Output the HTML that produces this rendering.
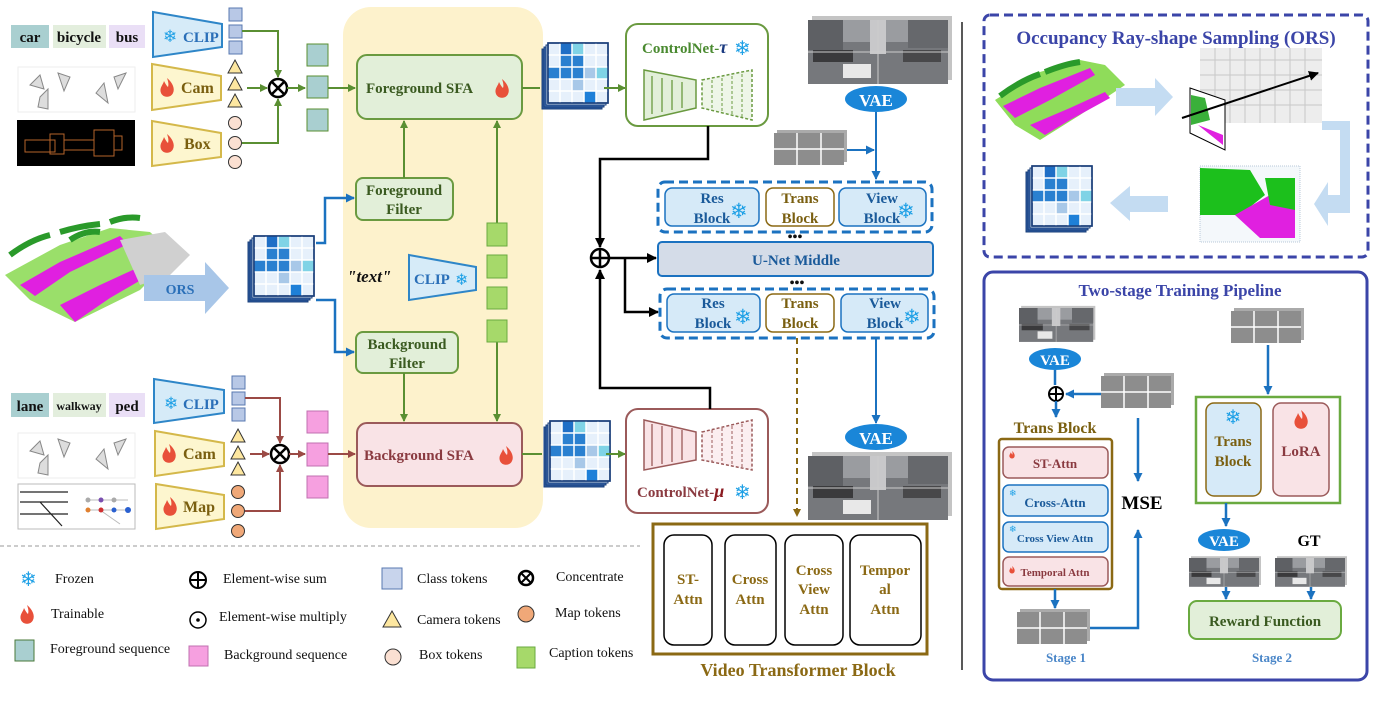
<!DOCTYPE html>
<html><head><meta charset="utf-8"><style>
html,body{margin:0;padding:0;background:#fff;}
svg{display:block;}
text{font-family:"Liberation Serif",serif;font-weight:bold;}
.sn{font-family:"DejaVu Sans",sans-serif;font-weight:normal;fill:#1ea0e6;}
</style></head><body>
<svg width="1384" height="702" viewBox="0 0 1384 702" xmlns="http://www.w3.org/2000/svg">
<defs>
<marker id="ag" markerWidth="8" markerHeight="8" refX="7" refY="4" orient="auto" markerUnits="userSpaceOnUse"><path d="M0,0L8,4L0,8Z" fill="#5a8f32"/></marker>
<marker id="ab" markerWidth="9" markerHeight="9" refX="8" refY="4.5" orient="auto" markerUnits="userSpaceOnUse"><path d="M0,0L9,4.5L0,9Z" fill="#1b72c0"/></marker>
<marker id="ak" markerWidth="10" markerHeight="10" refX="9" refY="5" orient="auto" markerUnits="userSpaceOnUse"><path d="M0,0L10,5L0,10Z" fill="#000"/></marker>
<marker id="ar" markerWidth="8" markerHeight="8" refX="7" refY="4" orient="auto" markerUnits="userSpaceOnUse"><path d="M0,0L8,4L0,8Z" fill="#9b4a45"/></marker>
<marker id="ao" markerWidth="8" markerHeight="8" refX="7" refY="4" orient="auto" markerUnits="userSpaceOnUse"><path d="M0,0L8,4L0,8Z" fill="#8b6914"/></marker>
<g id="fl"><path d="M0,-10 C6,-5 8,1 6,5 C4,10 -4,10 -6,5 C-8,0 -4,-3 -3,-7 C-1,-3 0,-2 1,-1 C2,-4 1,-7 0,-10Z" fill="#e8503a"/></g>
<g id="grid">
<rect x="-6" y="6" width="60" height="60" fill="#2a5aa0" stroke="#1a3f7a"/>
<rect x="-4" y="4" width="60" height="60" fill="#3a6ab0" stroke="#1a3f7a"/>
<rect x="-2" y="2" width="60" height="60" fill="#cfe0f4" stroke="#1a3f7a"/>
<rect x="0" y="0" width="60" height="60" fill="#e6f0fb" stroke="#1a3f7a" stroke-width="1.5"/>
<rect x="12" y="0" width="12" height="12" fill="#1f6fc6"/><rect x="24" y="0" width="12" height="12" fill="#7fd3e6"/>
<rect x="12" y="12" width="12" height="12" fill="#2a80d0"/><rect x="24" y="12" width="12" height="12" fill="#2a80d0"/>
<rect x="0" y="24" width="12" height="12" fill="#2a80d0"/><rect x="12" y="24" width="12" height="12" fill="#2a80d0"/><rect x="24" y="24" width="12" height="12" fill="#2a80d0"/><rect x="36" y="24" width="12" height="12" fill="#a8c8e8"/><rect x="48" y="24" width="12" height="12" fill="#7fd3e6"/>
<rect x="24" y="36" width="12" height="12" fill="#a8c8e8"/><rect x="36" y="48" width="12" height="12" fill="#1f80d8"/>
<path d="M12,0V60M24,0V60M36,0V60M48,0V60M0,12H60M0,24H60M0,36H60M0,48H60" stroke="#fff" stroke-width="1.5"/>
<rect x="0" y="0" width="60" height="60" fill="none" stroke="#1a3f7a" stroke-width="1.5"/>
</g>
<g id="img">
<rect x="4" y="-4" width="140" height="64" fill="#c4c4c4"/>
<rect x="0" y="0" width="140" height="64" fill="#76787c"/>
<rect x="0" y="0" width="140" height="22" fill="#9a9ca0"/>
<rect x="0" y="0" width="35" height="30" fill="#5e6064"/><rect x="100" y="0" width="40" height="28" fill="#66686c"/>
<rect x="5" y="30" width="40" height="12" fill="#3a3a3c"/><rect x="95" y="30" width="38" height="12" fill="#48484a"/>
<rect x="35" y="44" width="28" height="14" fill="#e8e8e8"/><rect x="62" y="0" width="16" height="34" fill="#c8c8ca"/>
<path d="M0,32H140M70,0V64" stroke="#ccc" stroke-width="1"/>
</g>
<g id="noise">
<rect x="3" y="-3" width="70" height="32" fill="#aaa"/>
<rect x="0" y="0" width="70" height="32" fill="#8d8d8d"/>
<path d="M0,16H70M23,0V32M47,0V32" stroke="#fff" stroke-width="1.5"/>
</g>
<g id="cams">
<rect x="0" y="0" width="117" height="45" fill="#fff" stroke="#eee"/>
<path d="M12,18L22,8L26,22ZM22,30L30,22L30,42L20,40ZM40,6L52,10L46,24Z M78,26L86,16L90,36ZM96,10L108,6L100,22Z" fill="#ddd" stroke="#888"/>
</g>
</defs>

<rect x="343" y="7" width="200" height="521" rx="28" fill="#fdf2cc"/>

<rect x="11" y="25" width="38" height="23" fill="#a9cfd0"/><text x="30" y="42" font-size="15" text-anchor="middle" fill="#111">car</text>
<rect x="53" y="25" width="53" height="23" fill="#e3eedd"/><text x="79" y="42" font-size="15" text-anchor="middle" fill="#111">bicycle</text>
<rect x="109" y="25" width="36" height="23" fill="#eadff6"/><text x="127" y="42" font-size="15" text-anchor="middle" fill="#111">bus</text>
<use href="#cams" x="18" y="67"/>
<rect x="17" y="120" width="118" height="46" fill="#000"/>
<path d="M25,140h30v12h-30zM50,134h14v20h-14zM64,140h30v10h-30zM94,130h20v26h-20zM114,136h8v14h-8z" fill="none" stroke="#b5632a" stroke-width="1"/>

<polygon points="153,12 222,24 222,47 153,57" fill="#d6ebf8" stroke="#2e86c8" stroke-width="2"/>
<text x="163" y="42" class="sn" font-size="17">❄</text><text x="183" y="42" font-size="15" fill="#2a6fb8">CLIP</text>
<polygon points="152,64 221,76 221,100 152,110" fill="#fdf6cf" stroke="#d4b84a" stroke-width="2"/>
<use href="#fl" x="167" y="88"/><text x="181" y="93" font-size="16" fill="#7a5f10">Cam</text>
<polygon points="152,121 221,133 221,157 152,166" fill="#fdf6cf" stroke="#d4b84a" stroke-width="2"/>
<use href="#fl" x="167" y="144"/><text x="184" y="149" font-size="16" fill="#7a5f10">Box</text>

<rect x="229" y="8" width="13" height="13" fill="#b8c8e6" stroke="#5878b0"/><rect x="229" y="25" width="13" height="13" fill="#b8c8e6" stroke="#5878b0"/><rect x="229" y="41" width="13" height="13" fill="#b8c8e6" stroke="#5878b0"/>
<polygon points="235,60 242,73 228,73" fill="#fde7a0" stroke="#333"/><polygon points="235,77 242,90 228,90" fill="#fde7a0" stroke="#333"/><polygon points="235,94 242,107 228,107" fill="#fde7a0" stroke="#333"/>
<circle cx="235" cy="123" r="6.5" fill="#fbe0d2" stroke="#333"/><circle cx="235" cy="143" r="6.5" fill="#fbe0d2" stroke="#333"/><circle cx="235" cy="162" r="6.5" fill="#fbe0d2" stroke="#333"/>
<path d="M242,31H278V77" stroke="#5a8f32" stroke-width="2" fill="none" marker-end="url(#ag)"/>
<path d="M242,143H278V99" stroke="#5a8f32" stroke-width="2" fill="none" marker-end="url(#ag)"/>
<path d="M247,88H267" stroke="#5a8f32" stroke-width="2" marker-end="url(#ag)"/>
<circle cx="278" cy="88" r="9" fill="#fff" stroke="#000" stroke-width="2.5"/><path d="M272,82L284,94M284,82L272,94" stroke="#000" stroke-width="2.5"/>
<path d="M287,88H305" stroke="#5a8f32" stroke-width="2" marker-end="url(#ag)"/>
<rect x="307" y="44" width="21" height="22" fill="#a9cfd0" stroke="#5a8f32"/><rect x="307" y="76" width="21" height="22" fill="#a9cfd0" stroke="#5a8f32"/><rect x="307" y="109" width="21" height="22" fill="#a9cfd0" stroke="#5a8f32"/>
<path d="M328,88H355" stroke="#5a8f32" stroke-width="2" marker-end="url(#ag)"/>

<rect x="357" y="55" width="165" height="64" rx="10" fill="#e2efd9" stroke="#6a9a40" stroke-width="2"/>
<text x="366" y="93" font-size="15" fill="#3a5a20">Foreground SFA</text><use href="#fl" x="502" y="89"/>
<rect x="356" y="178" width="97" height="42" rx="7" fill="#e2efd9" stroke="#6a9a40" stroke-width="2"/>
<text x="404" y="195" font-size="15" text-anchor="middle" fill="#3a5a20">Foreground</text><text x="404" y="214" font-size="15" text-anchor="middle" fill="#3a5a20">Filter</text>
<rect x="356" y="332" width="102" height="41" rx="7" fill="#e2efd9" stroke="#6a9a40" stroke-width="2"/>
<text x="407" y="349" font-size="15" text-anchor="middle" fill="#3a5a20">Background</text><text x="407" y="368" font-size="15" text-anchor="middle" fill="#3a5a20">Filter</text>
<path d="M404,178V121" stroke="#5a8f32" stroke-width="2" marker-end="url(#ag)"/>
<path d="M497,223V121" stroke="#5a8f32" stroke-width="2" marker-end="url(#ag)"/>
<path d="M404,373V421" stroke="#5a8f32" stroke-width="2" marker-end="url(#ag)"/>
<path d="M497,342V421" stroke="#5a8f32" stroke-width="2" marker-end="url(#ag)"/>
<rect x="487" y="223" width="20" height="23" fill="#a6d96a" stroke="#6aaa40"/><rect x="487" y="255" width="20" height="23" fill="#a6d96a" stroke="#6aaa40"/><rect x="487" y="287" width="20" height="22" fill="#a6d96a" stroke="#6aaa40"/><rect x="487" y="320" width="20" height="22" fill="#a6d96a" stroke="#6aaa40"/>
<text x="347" y="282" font-size="17" font-style="italic" font-family="Liberation Mono" fill="#111">"text"</text>
<polygon points="409,255 476,267 476,290 409,300" fill="#d6ebf8" stroke="#2e86c8" stroke-width="2"/>
<text x="414" y="284" font-size="15" fill="#2a6fb8">CLIP</text><text x="455" y="285" class="sn" font-size="16">❄</text>

<!-- point cloud -->
<polygon points="5,275 60,245 110,228 150,232 175,255 140,290 75,322 30,300" fill="#8fdc5a" opacity="0.9"/>
<polygon points="20,285 60,262 120,236 128,244 70,272 35,296" fill="#e020e0"/>
<polygon points="60,305 100,285 150,262 158,270 110,298 75,322" fill="#e020e0"/>
<polygon points="120,240 165,232 190,255 170,275 140,285" fill="#d0d0d0"/>
<path d="M10,255q20,-15 40,-20 M60,232q20,-6 40,-8 M70,240q15,-10 30,-8 M110,222q15,-6 30,-4" stroke="#2a9a2a" stroke-width="6" fill="none"/>
<polygon points="144,275 205,275 205,262 229,288 205,314 205,301 144,301" fill="#a8c6e8"/>
<text x="180" y="294" font-size="14" text-anchor="middle" fill="#2a6fb8">ORS</text>
<use href="#grid" x="254" y="236"/>
<path d="M316,243H325V198H354" stroke="#1b72c0" stroke-width="2.5" fill="none" marker-end="url(#ab)"/>
<path d="M316,300H335V352H354" stroke="#1b72c0" stroke-width="2.5" fill="none" marker-end="url(#ab)"/>

<rect x="11" y="393" width="38" height="24" fill="#a9cfd0"/><text x="30" y="411" font-size="15" text-anchor="middle" fill="#111">lane</text>
<rect x="53" y="393" width="53" height="24" fill="#e3eedd"/><text x="79" y="410" font-size="12" text-anchor="middle" fill="#111">walkway</text>
<rect x="109" y="393" width="36" height="24" fill="#eadff6"/><text x="127" y="411" font-size="15" text-anchor="middle" fill="#111">ped</text>
<use href="#cams" x="18" y="433"/>
<rect x="18" y="484" width="117" height="45" fill="#fff" stroke="#bbb"/>
<path d="M20,492H68M20,502H68M20,514H68M40,502L62,526" stroke="#222" stroke-width="1.2"/>
<path d="M86,500H128M86,510H128M100,510L120,524" stroke="#bbb"/>
<circle cx="88" cy="500" r="2.5" fill="#aaa"/><circle cx="101" cy="500" r="2.5" fill="#7a4fb0"/><circle cx="114" cy="500" r="2.5" fill="#aaa"/><circle cx="88" cy="510" r="2.5" fill="#e08030"/><circle cx="101" cy="510" r="2.5" fill="#d03030"/><circle cx="114" cy="510" r="2.5" fill="#2a60d0"/><circle cx="128" cy="510" r="3" fill="#2a60d0"/>
<polygon points="154,379 224,390 224,413 154,423" fill="#d6ebf8" stroke="#2e86c8" stroke-width="2"/>
<text x="164" y="409" class="sn" font-size="17">❄</text><text x="183" y="409" font-size="15" fill="#2a6fb8">CLIP</text>
<polygon points="155,431 224,443 224,466 155,476" fill="#fdf6cf" stroke="#d4b84a" stroke-width="2"/>
<use href="#fl" x="169" y="454"/><text x="183" y="459" font-size="16" fill="#7a5f10">Cam</text>
<polygon points="156,484 224,495 224,519 156,529" fill="#fdf6cf" stroke="#d4b84a" stroke-width="2"/>
<use href="#fl" x="170" y="507"/><text x="183" y="512" font-size="16" fill="#7a5f10">Map</text>
<rect x="232" y="376" width="13" height="13" fill="#b8c8e6" stroke="#5878b0"/><rect x="232" y="392" width="13" height="13" fill="#b8c8e6" stroke="#5878b0"/><rect x="232" y="408" width="13" height="13" fill="#b8c8e6" stroke="#5878b0"/>
<polygon points="238,429 245,442 231,442" fill="#fde7a0" stroke="#333"/><polygon points="238,446 245,459 231,459" fill="#fde7a0" stroke="#333"/><polygon points="238,462 245,475 231,475" fill="#fde7a0" stroke="#333"/>
<circle cx="238" cy="492" r="6.5" fill="#f0a878" stroke="#333"/><circle cx="238" cy="511" r="6.5" fill="#f0a878" stroke="#333"/><circle cx="238" cy="531" r="6.5" fill="#f0a878" stroke="#333"/>
<path d="M245,398H280V443" stroke="#9b4a45" stroke-width="2" fill="none" marker-end="url(#ar)"/>
<path d="M245,511H280V465" stroke="#9b4a45" stroke-width="2" fill="none" marker-end="url(#ar)"/>
<path d="M250,454H269" stroke="#9b4a45" stroke-width="2" marker-end="url(#ar)"/>
<circle cx="280" cy="454" r="9" fill="#fff" stroke="#000" stroke-width="2.5"/><path d="M274,448L286,460M286,448L274,460" stroke="#000" stroke-width="2.5"/>
<path d="M289,454H305" stroke="#9b4a45" stroke-width="2" marker-end="url(#ar)"/>
<rect x="307" y="411" width="21" height="22" fill="#f6a0e0" stroke="#c070b0"/><rect x="307" y="443" width="21" height="23" fill="#f6a0e0" stroke="#c070b0"/><rect x="307" y="476" width="21" height="22" fill="#f6a0e0" stroke="#c070b0"/>
<path d="M328,454H355" stroke="#9b4a45" stroke-width="2" marker-end="url(#ar)"/>
<rect x="357" y="423" width="165" height="63" rx="10" fill="#f9e3e6" stroke="#9b5a5a" stroke-width="2"/>
<text x="364" y="460" font-size="15" fill="#8a3a40">Background SFA</text><use href="#fl" x="506" y="456"/>

<use href="#grid" x="548" y="43"/>
<path d="M522,88H540" stroke="#5a8f32" stroke-width="2"/>
<path d="M604,88H625" stroke="#5a8f32" stroke-width="2" marker-end="url(#ag)"/>
<use href="#grid" x="550" y="421"/>
<path d="M522,454H542" stroke="#5a8f32" stroke-width="2"/>
<path d="M606,454H625" stroke="#5a8f32" stroke-width="2" marker-end="url(#ag)"/>

<rect x="626" y="24" width="142" height="102" rx="12" fill="#fff" stroke="#6a9a40" stroke-width="2"/>
<text x="642" y="53" font-size="15" fill="#4a8a30">ControlNet-<tspan font-style="italic" fill="#1a3a80" font-size="18">τ</tspan></text><text x="734" y="55" class="sn" font-size="20">❄</text>
<polygon points="644,70 696,80 696,108 644,120" fill="#e2efd9" stroke="#6a9a40" stroke-width="1.5"/>
<path d="M652,76V114M662,78V112M672,80V110M682,82V108" stroke="#6a9a40" stroke-width="1.3"/>
<polygon points="702,80 752,70 752,120 702,108" fill="#eef6e8" stroke="#6a9a40" stroke-width="1.5" stroke-dasharray="3,2"/>
<path d="M712,80V108M722,78V111M732,76V114M742,74V117" stroke="#6a9a40" stroke-width="1" stroke-dasharray="3,2"/>
<rect x="626" y="409" width="142" height="104" rx="12" fill="#fff" stroke="#9b5a5a" stroke-width="2"/>
<polygon points="644,420 696,432 696,460 644,470" fill="#f9e3e6" stroke="#9b5a5a" stroke-width="1.5"/>
<path d="M652,424V466M662,426V464M672,428V462M682,430V460" stroke="#9b5a5a" stroke-width="1.3"/>
<polygon points="702,432 752,420 752,470 702,460" fill="#fbeef0" stroke="#9b5a5a" stroke-width="1.5" stroke-dasharray="3,2"/>
<path d="M712,430V462M722,428V464M732,426V466M742,424V468" stroke="#9b5a5a" stroke-width="1" stroke-dasharray="3,2"/>
<text x="637" y="497" font-size="15" fill="#8a3a40">ControlNet-<tspan font-style="italic" fill="#8a1a20" font-size="18">μ</tspan></text><text x="734" y="499" class="sn" font-size="20">❄</text>

<path d="M708,126V159H600V247" stroke="#000" stroke-width="2.5" fill="none" marker-end="url(#ak)"/>
<path d="M710,409V388H600V270" stroke="#000" stroke-width="2.5" fill="none" marker-end="url(#ak)"/>
<circle cx="600" cy="258" r="9" fill="#fff" stroke="#000" stroke-width="2.5"/><path d="M591,258H609M600,249V267" stroke="#000" stroke-width="2.5"/>
<path d="M609,258H656" stroke="#000" stroke-width="2.5" marker-end="url(#ak)"/>
<path d="M625,258V312H658" stroke="#000" stroke-width="2.5" fill="none" marker-end="url(#ak)"/>

<use href="#img" x="808" y="20"/>
<ellipse cx="876" cy="99" rx="31" ry="13" fill="#1a86d8"/><text x="876" y="106" font-size="17" text-anchor="middle" fill="#fff">VAE</text>
<use href="#noise" x="774" y="133"/>
<path d="M876,112V179" stroke="#1b72c0" stroke-width="2" marker-end="url(#ab)"/>
<path d="M847,150H874" stroke="#1b72c0" stroke-width="2" marker-end="url(#ab)"/>
<rect x="658" y="182" width="274" height="50" rx="7" fill="none" stroke="#1b72c0" stroke-width="3" stroke-dasharray="9,5"/>
<rect x="665" y="188" width="94" height="38" rx="7" fill="#d6eaf8" stroke="#1b72c0" stroke-width="1.5"/>
<text x="712" y="203" font-size="15" text-anchor="middle" fill="#1a5a9a">Res</text><text x="712" y="223" font-size="15" text-anchor="middle" fill="#1a5a9a">Block</text><text x="730" y="218" class="sn" font-size="21">❄</text>
<rect x="766" y="188" width="68" height="38" rx="7" fill="#fff" stroke="#8b6914" stroke-width="1.5"/>
<text x="800" y="203" font-size="15" text-anchor="middle" fill="#7a5f10">Trans</text><text x="800" y="223" font-size="15" text-anchor="middle" fill="#7a5f10">Block</text>
<rect x="839" y="188" width="87" height="38" rx="7" fill="#d6eaf8" stroke="#1b72c0" stroke-width="1.5"/>
<text x="882" y="203" font-size="15" text-anchor="middle" fill="#1a5a9a">View</text><text x="882" y="223" font-size="15" text-anchor="middle" fill="#1a5a9a">Block</text><text x="897" y="218" class="sn" font-size="21">❄</text>
<text x="795" y="241" font-size="14" text-anchor="middle" fill="#111">•••</text>
<rect x="658" y="242" width="275" height="34" rx="4" fill="#d4dce8" stroke="#1b72c0" stroke-width="2"/>
<text x="796" y="265" font-size="15" text-anchor="middle" fill="#1a5a9a">U-Net Middle</text>
<text x="797" y="287" font-size="14" text-anchor="middle" fill="#111">•••</text>
<rect x="660" y="289" width="274" height="49" rx="7" fill="none" stroke="#1b72c0" stroke-width="3" stroke-dasharray="9,5"/>
<rect x="667" y="294" width="93" height="38" rx="7" fill="#d6eaf8" stroke="#1b72c0" stroke-width="1.5"/>
<text x="713" y="308" font-size="15" text-anchor="middle" fill="#1a5a9a">Res</text><text x="713" y="328" font-size="15" text-anchor="middle" fill="#1a5a9a">Block</text><text x="734" y="324" class="sn" font-size="21">❄</text>
<rect x="766" y="294" width="68" height="38" rx="7" fill="#fff" stroke="#8b6914" stroke-width="1.5"/>
<text x="800" y="308" font-size="15" text-anchor="middle" fill="#7a5f10">Trans</text><text x="800" y="328" font-size="15" text-anchor="middle" fill="#7a5f10">Block</text>
<rect x="841" y="294" width="87" height="38" rx="7" fill="#d6eaf8" stroke="#1b72c0" stroke-width="1.5"/>
<text x="885" y="308" font-size="15" text-anchor="middle" fill="#1a5a9a">View</text><text x="885" y="328" font-size="15" text-anchor="middle" fill="#1a5a9a">Block</text><text x="903" y="324" class="sn" font-size="21">❄</text>
<path d="M876,338V423" stroke="#1b72c0" stroke-width="2" marker-end="url(#ab)"/>
<ellipse cx="876" cy="437" rx="31" ry="13" fill="#1a86d8"/><text x="876" y="444" font-size="17" text-anchor="middle" fill="#fff">VAE</text>
<use href="#img" x="808" y="456"/>
<path d="M797,338V516" stroke="#8b6914" stroke-width="2" stroke-dasharray="6,4" marker-end="url(#ao)"/>

<rect x="653" y="524" width="274" height="130" fill="#fff" stroke="#8b6914" stroke-width="3"/>
<rect x="664" y="535" width="48" height="110" rx="10" fill="#fff" stroke="#000" stroke-width="1.5"/>
<rect x="725" y="535" width="51" height="110" rx="10" fill="#fff" stroke="#000" stroke-width="1.5"/>
<rect x="785" y="535" width="58" height="110" rx="10" fill="#fff" stroke="#000" stroke-width="1.5"/>
<rect x="850" y="535" width="71" height="110" rx="10" fill="#fff" stroke="#000" stroke-width="1.5"/>
<g font-size="15" fill="#8b6914" text-anchor="middle">
<text x="688" y="584">ST-</text><text x="688" y="604">Attn</text>
<text x="750" y="584">Cross</text><text x="750" y="604">Attn</text>
<text x="814" y="575">Cross</text><text x="814" y="594">View</text><text x="814" y="614">Attn</text>
<text x="885" y="575">Tempor</text><text x="885" y="594">al</text><text x="885" y="614">Attn</text>
</g>
<text x="798" y="676" font-size="18" text-anchor="middle" fill="#8b6914">Video Transformer Block</text>

<path d="M0,546H640" stroke="#bbb" stroke-width="1.5" stroke-dasharray="4,3"/>
<g>
<text x="20" y="586" class="sn" font-size="20">❄</text>
<text x="55" y="583" font-size="14" fill="#111" style="font-weight:normal">Frozen</text>
<use href="#fl" x="27" y="615"/>
<text x="51" y="618" font-size="14" fill="#111" style="font-weight:normal">Trainable</text>
<rect x="15" y="640" width="19" height="21" fill="#a9cfd0" stroke="#4a7a3a"/>
<text x="50" y="653" font-size="14" fill="#111" style="font-weight:normal">Foreground sequence</text>
<circle cx="198" cy="580" r="8" fill="none" stroke="#000" stroke-width="2"/><path d="M190,580H206M198,572V588" stroke="#000" stroke-width="2"/>
<text x="223" y="583" font-size="14" fill="#111" style="font-weight:normal">Element-wise sum</text>
<circle cx="198" cy="620" r="8" fill="none" stroke="#000" stroke-width="1.5"/><circle cx="198" cy="620" r="1.8" fill="#000"/>
<text x="219" y="621" font-size="14" fill="#111" style="font-weight:normal">Element-wise multiply</text>
<rect x="189" y="646" width="19" height="20" fill="#f6a0e0" stroke="#c070b0"/>
<text x="224" y="659" font-size="14" fill="#111" style="font-weight:normal">Background sequence</text>
<rect x="382" y="568" width="20" height="21" fill="#c8d4ec" stroke="#5878b0"/>
<text x="417" y="583" font-size="14" fill="#111" style="font-weight:normal">Class tokens</text>
<polygon points="392,611 401,627 383,627" fill="#fde7a0" stroke="#333"/>
<text x="417" y="624" font-size="14" fill="#111" style="font-weight:normal">Camera tokens</text>
<circle cx="393" cy="657" r="8" fill="#fbe0d2" stroke="#333"/>
<text x="419" y="659" font-size="14" fill="#111" style="font-weight:normal">Box tokens</text>
<circle cx="526" cy="578" r="7" fill="#fff" stroke="#000" stroke-width="2.5"/><path d="M521,573L531,583M531,573L521,583" stroke="#000" stroke-width="2"/>
<text x="556" y="581" font-size="14" fill="#111" style="font-weight:normal">Concentrate</text>
<circle cx="526" cy="614" r="8" fill="#f0a878" stroke="#333"/>
<text x="555" y="617" font-size="14" fill="#111" style="font-weight:normal">Map tokens</text>
<rect x="517" y="647" width="18" height="21" fill="#a6d96a" stroke="#6aaa40"/>
<text x="549" y="657" font-size="14" fill="#111" style="font-weight:normal">Caption tokens</text>
</g>

<path d="M962,22V670" stroke="#222" stroke-width="1.5"/>

<rect x="984" y="15" width="384" height="242" rx="6" fill="#fff" stroke="#3b45a8" stroke-width="3" stroke-dasharray="9,5"/>
<text x="1176" y="44" font-size="19" text-anchor="middle" fill="#3b45a8">Occupancy Ray-shape Sampling (ORS)</text>
<polygon points="995,100 1040,72 1080,60 1105,65 1125,85 1080,115 1040,140 1015,125" fill="#8fdc5a"/>
<polygon points="1003,106 1040,88 1090,68 1095,75 1050,100 1015,118" fill="#e020e0"/>
<polygon points="1030,125 1070,108 1105,92 1110,98 1070,120 1045,135" fill="#e020e0"/>
<path d="M1000,96q20,-15 40,-22 M1045,72q20,-8 35,-10" stroke="#2a9a2a" stroke-width="6" fill="none"/>
<polygon points="1116,88 1155,88 1155,78 1173,97 1155,116 1155,106 1116,106" fill="#c4dcf2"/>
<rect x="1200" y="48" width="122" height="75" fill="#e8e8e8" opacity="0.8"/>
<path d="M1200,60H1322M1200,75H1322M1200,90H1322M1200,105H1322M1215,48V123M1230,48V123M1245,48V123M1260,48V123M1275,48V123M1290,48V123M1305,48V123" stroke="#c8c8c8"/>
<polygon points="1190,88 1225,100 1225,150 1190,133" fill="#fff" stroke="#000"/>
<polygon points="1191,95 1205,98 1210,120 1191,125" fill="#3ab03a"/><polygon points="1198,125 1223,135 1223,145" fill="#e020e0"/>
<path d="M1182,118L1318,73" stroke="#000" stroke-width="2" marker-end="url(#ak)"/>
<polygon points="1322,121 1350,121 1350,213 1328,213 1328,226 1314,204 1328,182 1328,195 1340,195 1340,130 1322,130" fill="#c4dcf2"/>
<rect x="1200" y="166" width="100" height="76" fill="#f4f8fb" stroke="#b8c8d8" stroke-dasharray="1,1"/>
<polygon points="1200,168 1250,170 1265,195 1240,215 1200,215" fill="#1cc01c"/>
<polygon points="1235,215 1270,195 1295,200 1295,238 1260,238" fill="#e020e0"/>
<polygon points="1265,178 1295,178 1295,210 1270,205" fill="#1cc01c"/>
<polygon points="1110,203 1130,186 1130,196 1168,196 1168,212 1130,212 1130,221" fill="#c4dcf2"/>
<use href="#grid" x="1032" y="166"/>

<rect x="984" y="272" width="383" height="408" rx="9" fill="#fff" stroke="#3b45a8" stroke-width="3"/>
<text x="1180" y="296" font-size="17" text-anchor="middle" fill="#3b45a8">Two-stage Training Pipeline</text>
<g transform="translate(1019,308) scale(0.53)"><use href="#img"/></g>
<ellipse cx="1055" cy="359" rx="26" ry="11" fill="#1a86d8"/><text x="1055" y="365" font-size="15" text-anchor="middle" fill="#fff">VAE</text>
<path d="M1055,370V385" stroke="#1b72c0" stroke-width="2.5"/>
<circle cx="1056" cy="394" r="7" fill="#fff" stroke="#000" stroke-width="2"/><path d="M1049,394H1063M1056,387V401" stroke="#000" stroke-width="2"/>
<path d="M1056,401V417" stroke="#1b72c0" stroke-width="2.5" marker-end="url(#ab)"/>
<use href="#noise" x="1101" y="376"/>
<path d="M1101,394H1066" stroke="#1b72c0" stroke-width="2.5" marker-end="url(#ab)"/>
<path d="M1138,418V481" stroke="#1b72c0" stroke-width="2.5" marker-end="url(#ab)"/>
<text x="1055" y="433" font-size="16" text-anchor="middle" fill="#7a5f10">Trans Block</text>
<rect x="999" y="439" width="113" height="150" rx="3" fill="#fff" stroke="#8b6914" stroke-width="2.5"/>
<rect x="1003" y="447" width="105" height="31" rx="6" fill="#f9e3e6" stroke="#9b5a5a" stroke-width="1.5"/>
<text x="1055" y="468" font-size="13" text-anchor="middle" fill="#8a3a40">ST-Attn</text>
<rect x="1003" y="485" width="105" height="31" rx="6" fill="#d6eaf8" stroke="#1b72c0" stroke-width="1.5"/>
<text x="1055" y="507" font-size="13" text-anchor="middle" fill="#1a5a9a">Cross-Attn</text>
<rect x="1003" y="522" width="105" height="30" rx="6" fill="#d6eaf8" stroke="#1b72c0" stroke-width="1.5"/>
<text x="1055" y="542" font-size="11" text-anchor="middle" fill="#1a5a9a">Cross View Attn</text>
<rect x="1003" y="557" width="105" height="29" rx="6" fill="#f9e3e6" stroke="#9b5a5a" stroke-width="1.5"/>
<text x="1055" y="576" font-size="11" text-anchor="middle" fill="#8a3a40">Temporal Attn</text>
<g transform="translate(1012,455) scale(0.4)"><use href="#fl"/></g><g transform="translate(1012,570) scale(0.4)"><use href="#fl"/></g>
<text x="1009" y="496" class="sn" font-size="9">❄</text><text x="1009" y="532" class="sn" font-size="9">❄</text>
<text x="1142" y="509" font-size="19" text-anchor="middle" fill="#000">MSE</text>
<path d="M1055,589V608" stroke="#1b72c0" stroke-width="2.5" marker-end="url(#ab)"/>
<use href="#noise" x="1017" y="612"/>
<path d="M1090,628H1138V530" stroke="#1b72c0" stroke-width="2.5" fill="none" marker-end="url(#ab)"/>
<text x="1066" y="662" font-size="13" text-anchor="middle" fill="#4a86c8">Stage 1</text>
<use href="#noise" x="1231" y="311"/>
<path d="M1268,345V394" stroke="#1b72c0" stroke-width="2.5" marker-end="url(#ab)"/>
<rect x="1196" y="397" width="144" height="106" fill="#fff" stroke="#6aaa40" stroke-width="2.5"/>
<rect x="1206" y="403" width="55" height="93" rx="8" fill="#d6eaf8" stroke="#8b6914" stroke-width="1.5"/>
<text x="1233" y="424" class="sn" font-size="20" text-anchor="middle">❄</text>
<text x="1233" y="446" font-size="15" text-anchor="middle" fill="#7a5f10">Trans</text><text x="1233" y="466" font-size="15" text-anchor="middle" fill="#7a5f10">Block</text>
<rect x="1273" y="403" width="56" height="93" rx="8" fill="#f9e3e6" stroke="#9b5a5a" stroke-width="1.5"/>
<use href="#fl" x="1301" y="420"/>
<text x="1301" y="456" font-size="15" text-anchor="middle" fill="#8a3a40">LoRA</text>
<path d="M1226,503V526" stroke="#1b72c0" stroke-width="2.5" marker-end="url(#ab)"/>
<ellipse cx="1224" cy="540" rx="26" ry="11" fill="#1a86d8"/><text x="1224" y="546" font-size="15" text-anchor="middle" fill="#fff">VAE</text>
<text x="1309" y="546" font-size="16" text-anchor="middle" fill="#000">GT</text>
<g transform="translate(1189,558) scale(0.5,0.45)"><use href="#img"/></g>
<g transform="translate(1275,558) scale(0.5,0.45)"><use href="#img"/></g>
<path d="M1226,587V599" stroke="#1b72c0" stroke-width="2.5" marker-end="url(#ab)"/>
<path d="M1311,587V599" stroke="#1b72c0" stroke-width="2.5" marker-end="url(#ab)"/>
<rect x="1189" y="601" width="152" height="38" rx="8" fill="#e2efd9" stroke="#6aaa40" stroke-width="2"/>
<text x="1265" y="626" font-size="15" text-anchor="middle" fill="#3a5a20">Reward Function</text>
<text x="1272" y="662" font-size="13" text-anchor="middle" fill="#4a86c8">Stage 2</text>
</svg>
</body></html>
